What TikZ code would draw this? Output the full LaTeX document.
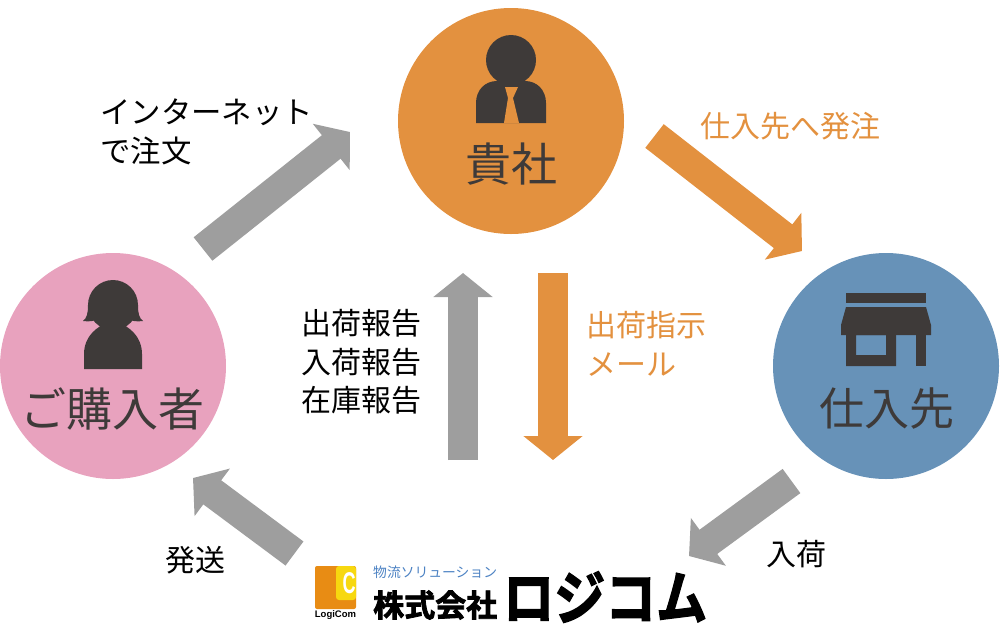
\documentclass[tikz,border=0pt]{standalone}
\usepackage{graphicx}
\usepackage{fontspec}
\setmainfont{Noto Sans CJK JP}
\newfontfamily\logofont[FakeBold=2.5]{Noto Sans CJK JP Bold}
\newfontfamily\latinbold{Liberation Sans}[BoldFont=* Bold]
\usetikzlibrary{arrows.meta}
\definecolor{orangeC}{HTML}{E3913F}
\definecolor{pinkC}{HTML}{E8A2BE}
\definecolor{blueC}{HTML}{6792B8}
\definecolor{grayC}{HTML}{9E9E9E}
\definecolor{darkC}{HTML}{3E3A39}
\definecolor{logoO}{HTML}{E88C14}
\definecolor{logoY}{HTML}{F7D80F}
\definecolor{logoB}{HTML}{4C82C3}
\tikzset{
    party/.style={circle,minimum size=226pt,inner sep=0pt},
    partyname/.style={inner sep=0pt,text=darkC,font=\fontsize{46}{46}\selectfont},
    note/.style={anchor=west,inner sep=0pt,align=left,font=\fontsize{30}{38.5}\selectfont},
    grayarrow/.style={line width=30pt,grayC,-{Triangle[width=58pt,length=24pt]}},
    orangearrow/.style={line width=30pt,orangeC,-{Triangle[width=58pt,length=24pt]}},
    icon/.style={fill=darkC}
}
\begin{document}
\begin{tikzpicture}[x=1pt,y=-1pt]
    \useasboundingbox (0,0) rectangle (1000,630);
    \node [party,fill=orangeC] (company) at (511,121) {};
    \node [party,fill=pinkC] (customer) at (113,366) {};
    \node [party,fill=blueC] (supplier) at (886,366) {};
    \node [partyname] (companyname) at (511,164) {貴社};
    \node [partyname] (customername) at (112.5,409) {ご購入者};
    \node [partyname,font=\fontsize{45}{45}\selectfont] (suppliername) at (886.5,409) {仕入先};
    % person with tie
    \fill [icon] (511,60) circle (25);
    \fill [icon] (476,123) -- (476,103) .. controls (476,90) and (485,81) .. (497,81)
        -- (525,81) .. controls (537,81) and (546,90) .. (546,103) -- (546,123) -- cycle;
    \fill [orangeC] (505,87) -- (518,87) -- (513,98) -- (519,123) -- (504,123) -- (508,98) -- cycle;
    % person with hair
    \fill [icon] (113,305) circle (25);
    \fill [icon] (88,305) .. controls (88,313) and (87,318) .. (83,321)
        .. controls (90,322) and (95,321) .. (99,318) -- (127,318)
        .. controls (131,321) and (136,322) .. (143,321)
        .. controls (139,318) and (138,313) .. (138,305) -- cycle;
    \fill [icon] (84,369) -- (84,354) .. controls (84,342) and (90,333) .. (99,327) -- (104,322)
        -- (122,322) -- (127,327) .. controls (136,333) and (142,342) .. (142,354) -- (142,369) -- cycle;
    % shop
    \fill [icon] (846,293) rectangle (926,303);
    \fill [icon] (846,307) -- (926,307) -- (931,325) -- (931,335) -- (841,335) -- (841,325) -- cycle;
    \fill [icon,even odd rule] (846,335) rectangle (896,366) (856,335) rectangle (886,355);
    \fill [icon] (916,335) rectangle (926,366);
    % arrows
    \coordinate (a1) at (203,249);
    \coordinate (a2) at (350,132);
    \coordinate (b1) at (654.5,136);
    \coordinate (b2) at (802,251);
    \coordinate (c1) at (463,460);
    \coordinate (c2) at (463,273);
    \coordinate (d1) at (553,273);
    \coordinate (d2) at (553,460);
    \coordinate (e1) at (791.5,481);
    \coordinate (e2) at (689,556);
    \coordinate (f1) at (294.5,553.5);
    \coordinate (f2) at (193,478);
    \draw [grayarrow] (a1) -- (a2);
    \draw [orangearrow] (b1) -- (b2);
    \draw [grayarrow] (c1) -- (c2);
    \draw [orangearrow] (d1) -- (d2);
    \draw [grayarrow] (e1) -- (e2);
    \draw [grayarrow] (f1) -- (f2);
    % labels
    \node [note,font=\fontsize{30.4}{38.5}\selectfont] (order) at (100,132) {インターネット\\で注文};
    \node [note,text=orangeC] (purchase) at (700,126) {仕入先へ発注};
    \node [note] (report) at (301,362) {出荷報告\\入荷報告\\在庫報告};
    \node [note,text=orangeC] (instruct) at (586,344) {出荷指示\\メール};
    \node [note] (ship) at (165,560) {発送};
    \node [note] (arrive) at (766,554) {入荷};
    % logo
    \fill [logoO,rounded corners=2pt] (315,566) rectangle (356,609);
    \fill [logoY,rounded corners=3pt] (336,566) rectangle (356,600);
    \node [inner sep=0pt,text=white,font=\latinbold\bfseries\fontsize{24}{24}\selectfont] (logoc) at (349,583) {\scalebox{0.75}[1.25]{C}};
    \node [inner sep=0pt,font=\latinbold\bfseries\fontsize{9.5}{10}\selectfont] (logoname) at (335.5,615) {LogiCom};
    \node [anchor=west,inner sep=0pt,text=logoB,font=\fontsize{13.8}{14}\selectfont] (logotag) at (373,572) {物流ソリューション};
    \node [anchor=west,inner sep=0pt,font=\logofont\fontsize{31}{31}\selectfont] (logokabu) at (373,605) {株式会社};
    \node [anchor=west,inner sep=0pt,font=\logofont\fontsize{51}{51}\selectfont] (logomain) at (503,597) {\scalebox{1}[1.15]{ロジコム}};
\end{tikzpicture}
\end{document}
